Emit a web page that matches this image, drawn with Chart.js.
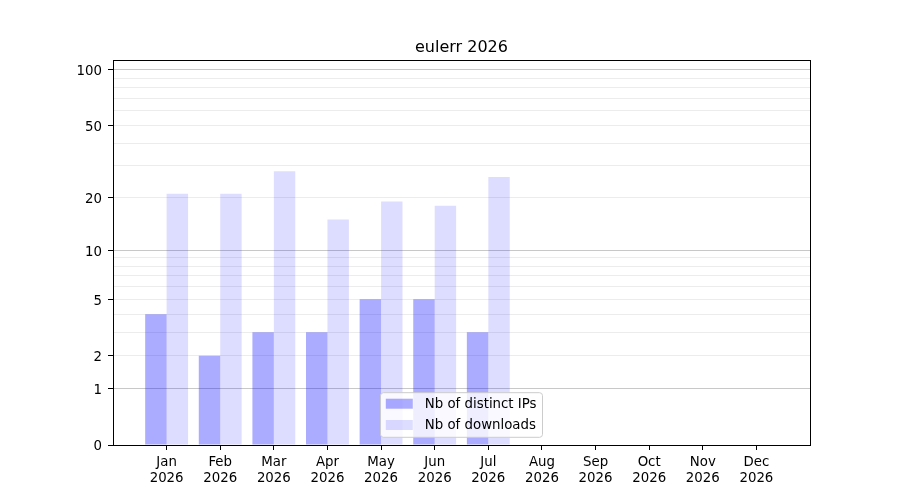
<!DOCTYPE html>
<html>
<head>
<meta charset="utf-8">
<script src="https://cdn.jsdelivr.net/npm/chart.js@4/dist/chart.umd.min.js"></script>
<style>
  html, body { margin: 0; padding: 0; background: #fff; }
  #wrap { width: 900px; height: 500px; }
</style>
</head>
<body>
<div id="wrap"><canvas id="chart" width="900" height="500"></canvas></div>
<script>
// data
const months = ['Jan', 'Feb', 'Mar', 'Apr', 'May', 'Jun', 'Jul', 'Aug', 'Sep', 'Oct', 'Nov', 'Dec'];
const year = '2026';
const distinctIPs = [4, 2, 3, 3, 5, 5, 3];
const downloads = [21, 21, 28, 15, 19, 18, 26];
const yLabelTicks = [0, 1, 2, 5, 10, 20, 50, 100];
const yMinorTicks = [3, 4, 6, 7, 8, 9, 30, 40, 60, 70, 80, 90];
const yMajorGrid = [1, 10, 100];

const FONT = 'DejaVu Sans';

// y axis like matplotlib's log(1 + x) scale
class Log1pScale extends Chart.LinearScale {
  buildTicks() {
    return yLabelTicks.concat(yMinorTicks).sort((a, b) => a - b).map(v => ({ value: v }));
  }
  configure() {
    super.configure();
    this._startValue = Math.log10(1 + this.min);
    this._valueRange = Math.log10(1 + this.max) - this._startValue;
  }
  getPixelForValue(value) {
    return this.getPixelForDecimal((Math.log10(1 + value) - this._startValue) / this._valueRange);
  }
  getValueForPixel(pixel) {
    return Math.pow(10, this._startValue + this.getDecimalForPixel(pixel) * this._valueRange) - 1;
  }
}
Log1pScale.id = 'log1p';
Log1pScale.defaults = {};
Chart.register(Log1pScale);

// frame round the plot (top and right spines too)
const framePlugin = {
  id: 'frame',
  afterDatasetsDraw(chart) {
    const { ctx, chartArea: a } = chart;
    ctx.save();
    ctx.strokeStyle = '#000';
    ctx.lineWidth = 1;
    ctx.strokeRect(Math.round(a.left) + 0.5, Math.round(a.top) + 0.5,
      Math.round(a.right - a.left), Math.round(a.bottom - a.top));
    ctx.restore();
  }
};

// legend inside the plot, lower center
const innerLegend = {
  id: 'innerLegend',
  afterDraw(chart) {
    const { ctx, chartArea: a } = chart;
    const fs = 13.33;
    ctx.save();
    ctx.font = fs + 'px "' + FONT + '"';
    const items = chart.data.datasets.map(d => ({ text: d.label, color: d.backgroundColor }));
    const textW = Math.max(...items.map(it => ctx.measureText(it.text).width));
    const pad = 5.3, handleW = 27, handleH = 10, gap = 12, rowH = 21.3;
    const w = pad + handleW + gap + textW + 6;
    const h = 44.6;
    const x = (a.left + a.right) / 2 - w / 2;
    const y = a.bottom - 7.7 - h;
    ctx.fillStyle = 'rgba(255,255,255,0.8)';
    ctx.strokeStyle = '#cccccc';
    ctx.lineWidth = 1;
    ctx.beginPath();
    ctx.roundRect(x, y, w, h, 3);
    ctx.fill();
    ctx.stroke();
    items.forEach((it, i) => {
      const cy = y + 11 + i * rowH;
      ctx.fillStyle = it.color;
      ctx.fillRect(x + pad, cy - handleH / 2, handleW, handleH);
      ctx.fillStyle = '#000';
      ctx.textBaseline = 'middle';
      ctx.fillText(it.text, x + pad + handleW + gap, cy + 1);
    });
    ctx.restore();
  }
};

const ctx = document.getElementById('chart').getContext('2d');
new Chart(ctx, {
  type: 'bar',
  data: {
    datasets: [{
      label: 'Nb of distinct IPs',
      data: distinctIPs.map((v, i) => ({ x: i, y: v })),
      backgroundColor: 'rgba(0,0,255,0.33)',
      borderWidth: 0
    }, {
      label: 'Nb of downloads',
      data: downloads.map((v, i) => ({ x: i, y: v })),
      backgroundColor: 'rgba(0,0,255,0.135)',
      borderWidth: 0
    }]
  },
  options: {
    responsive: false,
    animation: false,
    devicePixelRatio: 1,
    categoryPercentage: 0.8,
    barPercentage: 1,
    layout: { padding: { left: 23, right: 0, top: 30, bottom: 0 } },
    plugins: {
      legend: { display: false },
      tooltip: { enabled: false },
      title: {
        display: true,
        text: 'eulerr ' + year,
        color: '#000',
        font: { family: FONT, size: 16, weight: 'normal', lineHeight: 1.2 },
        padding: { top: 8, bottom: 2.8 }
      }
    },
    scales: {
      x: {
        type: 'linear',
        min: -1,
        max: 12,
        offset: false,
        afterBuildTicks: scale => { scale.ticks = months.map((m, i) => ({ value: i })); },
        afterFit: scale => { scale.height = 55; },
        grid: { offset: false, drawOnChartArea: false, tickLength: 5, tickColor: '#000' },
        border: { color: '#000' },
        ticks: {
          autoSkip: false,
          maxRotation: 0,
          padding: 5,
          color: '#000',
          font: { family: FONT, size: 13.33, lineHeight: 1.2 },
          callback: v => [months[v], year]
        }
      },
      y: {
        type: 'log1p',
        min: 0,
        max: 113,
        afterFit: scale => { scale.width = 90; },
        grid: {
          tickLength: 5,
          color: c => {
            const v = c.tick ? c.tick.value : null;
            if (v === 0) return 'rgba(0,0,0,0)';
            return yMajorGrid.includes(v) ? '#c8c8c8' : '#ececec';
          },
          tickColor: c => (c.tick && yLabelTicks.includes(c.tick.value)) ? '#000' : 'rgba(0,0,0,0)'
        },
        border: { color: '#000' },
        ticks: {
          autoSkip: false,
          padding: 6,
          labelOffset: 2,
          color: '#000',
          font: { family: FONT, size: 13.33 },
          callback: v => yLabelTicks.includes(v) ? String(v) : ''
        }
      },
      // empty right margin, keeps the title centred over the plot
      yRight: {
        type: 'linear',
        position: 'right',
        afterFit: scale => { scale.width = 90; },
        grid: { drawOnChartArea: false, drawTicks: false },
        border: { display: false },
        ticks: { display: false }
      }
    }
  },
  plugins: [framePlugin, innerLegend]
});
</script>
</body>
</html>
